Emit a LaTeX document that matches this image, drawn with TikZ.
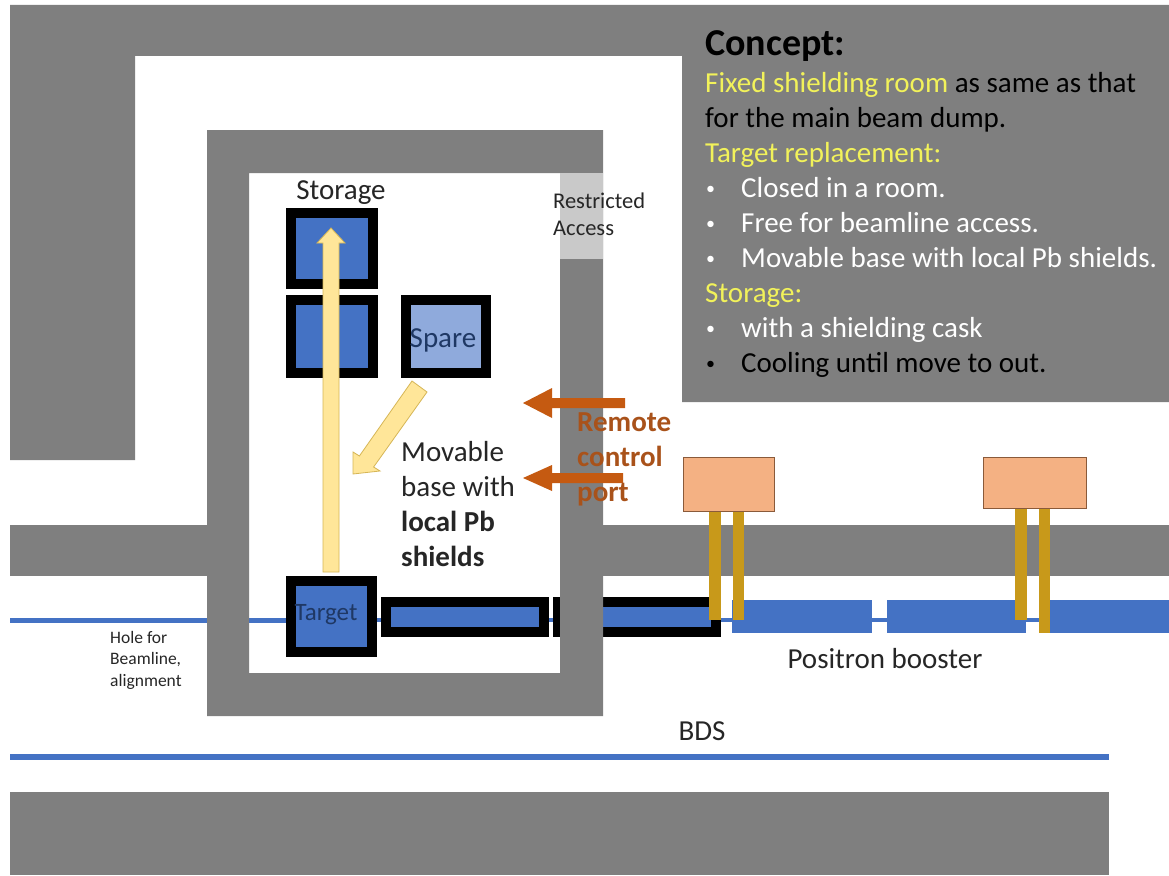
\documentclass[tikz,border=0pt]{standalone}
\usepackage{fontspec}
\setmainfont{Carlito}
\definecolor{wall}{HTML}{7F7F7F}
\definecolor{lightwall}{HTML}{C9C9C9}
\definecolor{beam}{HTML}{4472C4}
\definecolor{sparefill}{HTML}{8FAADC}
\definecolor{navy}{HTML}{1F3864}
\definecolor{pale}{HTML}{FFE699}
\definecolor{paleedge}{HTML}{D6B656}
\definecolor{rust}{HTML}{C55A11}
\definecolor{rusttext}{HTML}{A9521A}
\definecolor{peach}{HTML}{F4B183}
\definecolor{peachedge}{HTML}{8A5A3A}
\definecolor{gold}{HTML}{C8991A}
\definecolor{lemon}{HTML}{F2F25A}
\definecolor{ink}{HTML}{262626}
\tikzset{
  wallpart/.style={fill=wall,draw=none},
  shielded/.style={fill=beam,draw=black,line width=10pt},
  beamrect/.style={fill=beam,draw=none},
  rf/.style={fill=peach,draw=peachedge,line width=1pt},
  feed/.style={fill=gold,draw=none},
  movearrow/.style={fill=pale,draw=paleedge,line width=.8pt},
  portarrow/.style={fill=rust,draw=none},
  label/.style={inner sep=0pt,align=left,anchor=north west,text=ink},
  big/.style={font=\fontsize{29}{35}\selectfont},
}
\newcommand{\bul}[1]{\makebox[36pt][l]{\hspace{1pt}\fontsize{18}{35}\selectfont\raisebox{3pt}{\textbullet}}#1}
\begin{document}
\begin{tikzpicture}[x=1pt,y=-1pt]
\useasboundingbox (0,0) rectangle (1169,875);
% outer shielding
\fill[wallpart] (10,5) -- (1169,5) -- (1169,402) -- (682,402) -- (682,56) -- (135,56) -- (135,460) -- (10,460) -- cycle;
\fill[wallpart] (10,525) rectangle (207,576);
\fill[wallpart] (603,525) rectangle (1169,576);
\fill[wallpart] (10,792) rectangle (1109,875);
% beamlines
\fill[beamrect] (10,618) rectangle (290,623);
\fill[beamrect] (377,618) rectangle (1169,622);
\fill[beamrect] (10,754) rectangle (1109,760);
% booster
\fill[beamrect] (732,600) rectangle (872,633);
\fill[beamrect] (887,600) rectangle (1026,633);
\fill[beamrect] (1041,600) rectangle (1169,633);
% room
\fill[white] (249,173) rectangle (560,673);
\fill[beamrect] (249,618) rectangle (290,623);
\fill[beamrect] (377,618) rectangle (560,622);
% shielded beam pipes
\draw[shielded] (386,602) rectangle (544,632);
\draw[shielded] (558,602) rectangle (716,632);
% room wall
\fill[wallpart,even odd rule] (207,130) rectangle (603,716) (249,173) rectangle (560,673);
\fill[lightwall] (560,173) rectangle (603,259);
% shielded boxes
\draw[shielded] (291,213) rectangle (373,284);
\draw[shielded] (291,300) rectangle (373,373);
\draw[shielded,fill=sparefill] (406,300) rectangle (486,373);
\draw[shielded] (291,581) rectangle (372,652);
% RF units
\fill[feed] (709,511) rectangle (721,620);
\fill[feed] (733,511) rectangle (744,620);
\fill[feed] (1015,508) rectangle (1027,620);
\fill[feed] (1039,508) rectangle (1050,633);
\draw[rf] (683,457) rectangle (774,511);
\draw[rf] (983,457) rectangle (1086,508);
% motion arrows
\draw[movearrow] (323,572) -- (323,243) -- (317,243) -- (331,228) -- (345,243) -- (339,243) -- (339,572) -- cycle;
\draw[movearrow] (412,381) -- (427,392) -- (373.6,467) -- (380,471) -- (353,474) -- (353,452) -- (359.4,456) -- cycle;
\fill[portarrow] (625,398) -- (552,398) -- (552,388) -- (523,403) -- (552,418) -- (552,408) -- (625,408) -- cycle;
\fill[portarrow] (623,473) -- (552,473) -- (552,465) -- (523,478) -- (552,491) -- (552,483) -- (623,483) -- cycle;
% labels
\node[label,big,anchor=center] (storage) at (341,193) {Storage};
\node[label,big,anchor=center,text=navy] (spare) at (443,340) {Spare};
\node[label,anchor=center,text=navy,font=\fontsize{25}{30}\selectfont] (target) at (326,615) {Target};
\node[label,text=ink,font=\fontsize{22.5}{27}\selectfont] (restricted) at (553,193) {Restricted\\Access};
\node[label,big] (movable) at (401,441) {Movable\\base with\\\textbf{local Pb}\\\textbf{shields}};
\node[label,big,text=rusttext] (remote) at (577,412) {\textbf{Remote}\\\textbf{control}\\\textbf{port}};
\node[label,big,anchor=center] (booster) at (885,659) {Positron booster};
\node[label,big,anchor=center] (bds) at (702,731) {BDS};
\node[label,font=\fontsize{17.5}{21.5}\selectfont] (hole) at (110,631) {Hole for\\Beamline,\\alignment};
\node[label,text=black,font=\fontsize{38}{40}\selectfont] (concepthead) at (705,30) {\textbf{Concept:}};
\node[label,big,text=black] (concept) at (705,72) {\textcolor{lemon}{Fixed shielding room} as same as that\\
for the main beam dump.\\
\textcolor{lemon}{Target replacement:}\\
\textcolor{white}{\bul{Closed in a room.}}\\
\textcolor{white}{\bul{Free for beamline access.}}\\
\textcolor{white}{\bul{Movable base with local Pb shields.}}\\
\textcolor{lemon}{Storage:}\\
\textcolor{white}{\bul{with a shielding cask}}\\
\bul{Cooling until move to out.}};
\end{tikzpicture}
\end{document}
